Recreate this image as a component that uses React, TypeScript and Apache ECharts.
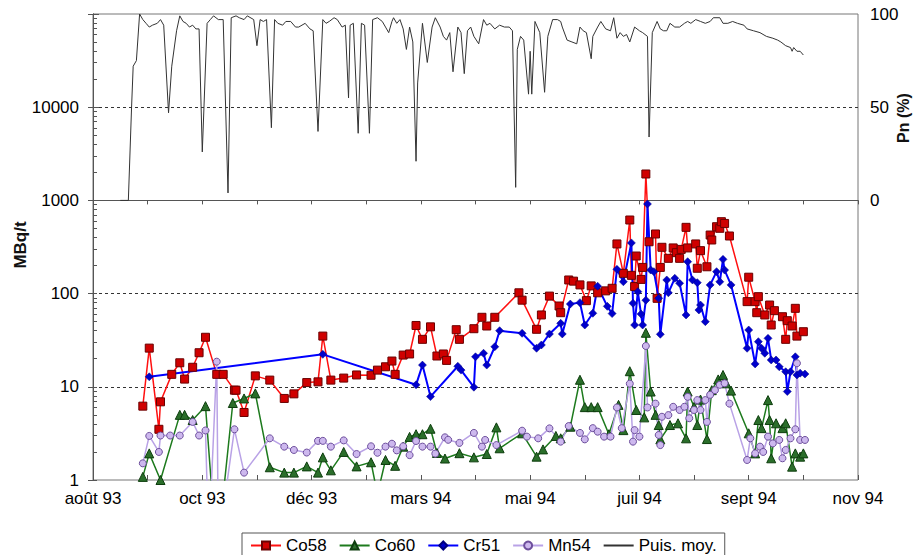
import React, { useEffect, useRef } from "react";
import * as echarts from "echarts";

// x values: days counted from the axis origin (10 Aug 1993); one tick every 34 days
const xTickLabels = ["août 93", "oct 93", "déc 93", "mars 94", "mai 94", "juil 94", "sept 94", "nov 94"];
const xLabelStep = 68;
const xTickStep = 34;
const xMax = 476;

const yLeftLabels = [1, 10, 100, 1000, 10000];
// minor tick positions of the log axis, expressed in decades (log10 of 1..9 x 10^k)
const yLeftMinorTicks: number[] = [];
for (let e = 0; e < 5; e++) for (let m = 1; m <= 9; m++) yLeftMinorTicks.push(e + Math.log10(m));
yLeftMinorTicks.push(5);
const yRightLabels = [0, 50, 100];

const co58: [number, number][] = [
  [31, 6.2], [35, 26], [41, 3.5], [42, 6.9], [49, 13.6], [54, 18.1], [57, 12.1], [62, 16.2], [66, 23.2], [70, 34],
  [77, 13.6], [81, 13.6], [88, 9.2], [89, 9.2], [94, 5.3], [101, 13.1], [110, 11.8], [119, 7.5], [125, 8.4], [133, 11.1],
  [140, 11.3], [143, 35], [148, 11.8], [156, 12.4], [164, 13.4], [173, 13.3], [177, 15.1], [182, 16.4], [186, 18.9], [188, 13.6],
  [193, 21.9], [197, 22.5], [201, 45.5], [205, 32.3], [210, 44], [214, 21.4], [218, 22.5], [220, 19.2], [226, 41], [228, 32.3],
  [237, 42], [242, 55.7], [245, 44.9], [250, 55.7], [265, 102], [267, 85], [276, 41.4], [279, 59], [284, 94], [290, 73.6],
  [291, 62.4], [296, 140], [299, 136], [303, 124], [307, 84], [310, 121], [314, 102], [319, 107], [323, 114], [326, 341],
  [330, 165], [334, 616], [335, 157], [337, 119], [338, 253], [341, 142], [342, 191], [344, 1920], [346, 360], [350, 436],
  [351, 89], [353, 191], [354, 314], [358, 239], [361, 309], [363, 275], [365, 239], [366, 298], [369, 514], [370, 309],
  [375, 341], [376, 187], [378, 289], [382, 194], [384, 425], [385, 376], [388, 522], [390, 502], [391, 591], [393, 566],
  [396, 415], [407, 82], [408, 150], [412, 82], [413, 62.4], [414, 92.7], [418, 59], [421, 75.4], [422, 46], [424, 65.6],
  [429, 56.5], [431, 32.3], [432, 51.2], [435, 44.9], [437, 69.5], [438, 35], [442, 39],
];

const co60: [number, number][] = [
  [31, 1.08], [35, 1.93], [42, 1.0], [54, 5.0], [57, 5.0], [62, 4.4], [70, 6.2], [77, 0.15], [87, 6.7], [94, 7.5],
  [101, 8.5], [110, 1.37], [119, 1.2], [125, 1.2], [133, 1.4], [140, 1.2], [143, 1.75], [148, 1.27], [156, 2.0], [164, 1.4],
  [173, 1.55], [177, 0.7], [182, 1.64], [188, 1.42], [193, 2.28], [197, 2.9], [201, 3.1], [205, 3.1], [210, 3.55], [214, 1.95],
  [219, 1.7], [228, 1.94], [237, 1.75], [245, 1.9], [251, 3.67], [253, 2.19], [267, 3.17], [276, 1.78], [280, 2.13], [288, 2.97],
  [291, 2.8], [297, 3.73], [303, 11.9], [306, 6.05], [310, 6.05], [314, 6.05], [321, 3.1], [327, 6.4], [330, 3.43], [334, 14.7],
  [338, 5.64], [343, 4.7], [344, 38], [347, 8.9], [350, 5.0], [352, 3.89], [353, 2.73], [359, 3.89], [364, 4.06], [369, 2.8],
  [370, 8.9], [374, 6.1], [376, 3.89], [378, 7.3], [382, 2.75], [385, 9.2], [389, 12], [392, 13.4], [394, 10.9], [397, 9.1],
  [408, 3.17], [412, 1.93], [414, 4.4], [416, 3.6], [420, 7.2], [421, 4.4], [422, 1.71], [425, 4.06], [429, 3.6], [431, 4.06],
  [435, 1.39], [437, 1.93], [440, 1.78], [442, 1.93],
];

const cr51: [number, number][] = [
  [35, 12.8], [143, 22.3], [201, 10.5], [205, 17.1], [210, 7.85], [227, 16.6], [229, 15.1], [237, 9.9], [238, 21], [243, 22.9],
  [245, 17.1], [250, 26.9], [253, 40], [267, 37.5], [276, 25.9], [279, 28.1], [284, 36.9], [291, 48], [292, 36.9], [297, 77.3],
  [303, 80], [306, 46], [311, 61.5], [314, 120], [320, 73], [323, 61], [326, 182], [330, 134], [335, 350], [336, 78.7],
  [337, 46], [339, 105], [341, 60.4], [342, 46], [344, 85], [345, 915], [347, 179], [349, 172], [352, 89], [353, 36.6],
  [357, 140], [358, 102], [362, 146], [365, 129], [369, 59], [370, 220], [373, 140], [376, 131], [377, 66.7], [378, 75.4],
  [381, 50], [384, 124], [388, 172], [390, 134], [392, 233], [393, 179], [397, 124], [407, 25.9], [408, 40.7], [412, 17.6],
  [414, 30.5], [416, 25.9], [418, 22.9], [420, 33.1], [422, 19.4], [425, 19.4], [427, 16.4], [431, 14.5], [432, 8.9], [434, 14.5],
  [437, 21], [438, 13.4], [440, 14], [443, 13.7],
];

const mn54: [number, number][] = [
  [31, 1.51], [35, 2.97], [41, 2.0], [42, 3.0], [48, 3.0], [54, 3.0], [62, 4.2], [66, 3.0], [70, 3.4], [72, 0.2],
  [77, 18.6], [78, 0.2], [88, 3.5], [94, 1.2], [110, 2.8], [119, 2.28], [125, 2.1], [133, 1.97], [140, 2.63], [143, 2.63],
  [148, 2.28], [156, 2.66], [164, 1.9], [173, 2.3], [177, 1.96], [182, 2.28], [186, 2.45], [189, 2.08], [193, 2.3], [197, 1.85],
  [201, 2.62], [205, 2.28], [210, 2.28], [213, 1.92], [219, 2.87], [221, 2.7], [228, 2.5], [237, 3.2], [242, 2.28], [244, 2.69],
  [251, 2.37], [267, 3.38], [270, 2.92], [277, 2.8], [284, 3.58], [291, 2.58], [296, 3.79], [303, 3.2], [306, 2.73], [311, 3.6],
  [314, 3.3], [318, 2.92], [322, 2.92], [326, 6.0], [329, 3.6], [334, 10.8], [336, 2.58], [337, 3.43], [340, 2.92], [344, 27.4],
  [345, 6.0], [350, 6.6], [352, 3.04], [353, 2.37], [354, 4.77], [358, 4.97], [361, 6.1], [365, 5.64], [368, 6.1], [370, 7.8],
  [371, 4.6], [374, 5.64], [376, 7.2], [378, 5.64], [381, 7.2], [382, 4.2], [384, 8.2], [387, 9.2], [390, 10.5], [393, 10.9],
  [396, 6.6], [407, 1.64], [409, 2.8], [412, 1.93], [415, 2.28], [417, 2.0], [420, 2.92], [423, 2.47], [427, 2.69], [429, 1.71],
  [431, 2.1], [434, 2.8], [437, 3.5], [438, 17.9], [440, 2.69], [443, 2.69],
];

// Puis. moy. : mean power in % (right axis)
const puisMoy: [number, number][] = [
  [17, 0], [22, 0], [24, 50], [25, 72], [27, 75], [29, 100], [31, 97], [33, 95], [35, 93], [37, 94], [40, 95], [42, 97],
  [44, 94], [47, 47], [49, 72], [52, 91], [54, 99], [56, 96], [58, 95], [60, 93], [62, 94], [64, 92], [66, 92], [68, 26], [71, 95],
  [73, 97], [75, 99], [78, 97], [81, 97], [84, 4], [86, 98], [89, 99], [91, 98], [94, 97], [96, 99], [100, 97], [102, 83], [104, 97],
  [106, 96], [108, 97], [111, 39], [113, 97], [115, 95], [118, 94], [120, 96], [123, 96], [126, 93], [128, 93], [132, 95], [135, 92], [137, 91], [140, 37], [143, 97],
  [145, 95], [147, 96], [150, 98], [152, 97], [155, 93], [157, 94], [159, 55], [160, 94], [162, 95], [165, 36], [167, 95], [169, 94], [172, 36], [174, 97],
  [177, 98], [180, 96], [182, 93], [184, 90], [186, 96], [187, 98], [189, 95], [191, 97], [193, 92], [195, 81], [197, 93], [199, 85], [201, 21], [202, 63], [205, 95], [208, 74],
  [211, 93], [213, 98], [216, 93], [218, 88], [220, 86], [222, 90], [224, 69], [227, 93], [229, 90], [231, 68], [233, 91], [235, 93], [237, 88], [240, 84], [243, 97],
  [245, 94], [247, 95], [250, 92], [253, 94], [256, 93], [259, 93], [261, 91], [263, 7], [264, 81], [266, 88], [268, 86], [271, 57], [272, 80], [273, 57], [275, 96],
  [278, 90], [281, 58], [283, 88], [286, 97], [289, 97], [291, 96], [292, 93], [295, 86], [298, 85], [301, 84], [303, 93], [305, 91], [307, 90],
  [310, 76], [311, 88], [314, 93], [316, 96], [319, 92], [322, 91], [324, 98], [326, 87], [328, 90], [330, 88], [332, 89], [334, 85], [337, 93],
  [340, 91], [342, 90], [345, 88], [346, 34], [348, 90], [351, 96], [353, 92], [355, 91], [357, 91], [359, 95], [362, 93], [365, 93], [368, 95], [370, 96],
  [372, 95], [375, 97], [378, 96], [381, 95], [384, 96], [386, 98], [390, 98], [392, 95], [395, 95], [398, 96], [401, 95], [405, 94], [407, 92], [411, 91],
  [415, 90], [419, 88], [423, 87], [426, 86], [428, 85], [431, 83], [434, 82], [435, 80], [436, 82], [438, 80], [440, 80], [442, 78],
];

const FONT = "'Liberation Sans', Arial, sans-serif";

export default function App() {
  const ref = useRef<HTMLDivElement>(null);
  useEffect(() => {
    if (!ref.current) return;
    const chart = echarts.init(ref.current, null, { renderer: "svg" });
    const labelStyle = { color: "#000", fontSize: 17, fontFamily: FONT };
    const option: any = {
      animation: false,
      backgroundColor: "#fff",
      grid: { left: 93, right: 56, top: 14, bottom: 75, show: true, borderColor: "#777", borderWidth: 1, backgroundColor: "transparent" },
      xAxis: [
        {
          type: "value", min: 0, max: xMax, interval: xTickStep, position: "bottom",
          axisLine: { show: true, lineStyle: { color: "#555", width: 1 } },
          axisTick: { show: true, inside: false, length: 4, lineStyle: { color: "#555" } },
          axisLabel: {
            ...labelStyle, margin: 10, showMinLabel: true, showMaxLabel: true,
            formatter: (v: number) => {
              const r = Math.round(v);
              return r % xLabelStep === 0 ? xTickLabels[r / xLabelStep] ?? "" : "";
            },
          },
          splitLine: { show: false },
        },
        {
          type: "value", min: 0, max: xMax, interval: xTickStep, position: "bottom",
          axisLine: { show: false },
          axisTick: { show: true, inside: true, length: 5, lineStyle: { color: "#555" } },
          axisLabel: { show: false },
          splitLine: { show: false },
        },
      ],
      yAxis: [
        {
          type: "log", logBase: 10, min: 1, max: 100000, position: "left",
          axisLine: { show: true, lineStyle: { color: "#555", width: 1 } },
          axisTick: { show: true, inside: false, length: 5, lineStyle: { color: "#555" } },
          axisLabel: {
            ...labelStyle, margin: 14,
            formatter: (v: number) => (yLeftLabels.indexOf(Math.round(v)) >= 0 ? String(Math.round(v)) : ""),
          },
          splitLine: { show: true, showMinLine: false, showMaxLine: false, lineStyle: { type: [3, 3], color: "#333", width: 1 } },
        },
        {
          type: "value", min: -150, max: 100, interval: 50, position: "right",
          axisLine: { show: true, lineStyle: { color: "#555", width: 1 } },
          axisTick: { show: true, inside: false, length: 6, customValues: yRightLabels, lineStyle: { color: "#555" } },
          axisLabel: {
            ...labelStyle, margin: 12, customValues: yRightLabels,
            formatter: (v: number) => (v < 0 ? "" : String(v)),
          },
          splitLine: { show: false },
        },
        {
          type: "value", min: 0, max: 5, position: "left",
          axisLine: { show: false },
          axisTick: { show: true, inside: true, length: 4, customValues: yLeftMinorTicks, lineStyle: { color: "#555" } },
          axisLabel: { show: false },
          splitLine: { show: false },
        },
      ],
      legend: {
        left: 242, top: 533, orient: "horizontal",
        padding: [4, 8, 6, 8], itemGap: 12, itemWidth: 30, itemHeight: 10,
        borderColor: "#555", borderWidth: 1, backgroundColor: "#fff",
        textStyle: { color: "#000", fontSize: 17, fontFamily: FONT },
        data: ["Co58", "Co60", "Cr51", "Mn54", { name: "Puis. moy.", itemStyle: { opacity: 0 } }],
      },
      graphic: [
        { type: "text", x: 20, y: 245, rotation: Math.PI / 2, style: { text: "MBq/t", font: `bold 17px ${FONT}`, fill: "#111", textAlign: "center", textVerticalAlign: "middle" } },
        { type: "text", x: 903, y: 118, rotation: Math.PI / 2, style: { text: "Pn (%)", font: `bold 16px ${FONT}`, fill: "#111", textAlign: "center", textVerticalAlign: "middle" } },
      ],
      series: [
        {
          name: "Co58", type: "line", data: co58, xAxisIndex: 0, yAxisIndex: 0,
          symbol: "rect", symbolSize: 8, color: "#ff1010",
          lineStyle: { color: "#ff1010", width: 1.5 },
          itemStyle: { color: "#d00000", borderColor: "#6a0000", borderWidth: 1 },
        },
        {
          name: "Co60", type: "line", data: co60, xAxisIndex: 0, yAxisIndex: 0,
          symbol: "triangle", symbolSize: 9, color: "#1d7a1d",
          lineStyle: { color: "#1d7a1d", width: 1.5 },
          itemStyle: { color: "#2a6e2a", borderColor: "#0d3d0d", borderWidth: 1 },
        },
        {
          name: "Cr51", type: "line", data: cr51, xAxisIndex: 0, yAxisIndex: 0,
          symbol: "diamond", symbolSize: 8, color: "#0000ff",
          lineStyle: { color: "#0000ff", width: 2 },
          itemStyle: { color: "#0000cc", borderColor: "#000080", borderWidth: 0.5 },
        },
        {
          name: "Mn54", type: "line", data: mn54, xAxisIndex: 0, yAxisIndex: 0,
          symbol: "circle", symbolSize: 7, color: "#b9a2e6",
          lineStyle: { color: "#b9a2e6", width: 1.5 },
          itemStyle: { color: "#cdb8ee", borderColor: "#6d4f9c", borderWidth: 1 },
        },
        {
          name: "Puis. moy.", type: "line", data: puisMoy, xAxisIndex: 0, yAxisIndex: 1,
          symbol: "none", showSymbol: false, color: "#333",
          lineStyle: { color: "#333", width: 1 },
        },
      ],
    };
    chart.setOption(option);
    return () => chart.dispose();
  }, []);
  return <div ref={ref} style={{ position: "absolute", left: 0, top: 0, width: 914, height: 555 }} />;
}
